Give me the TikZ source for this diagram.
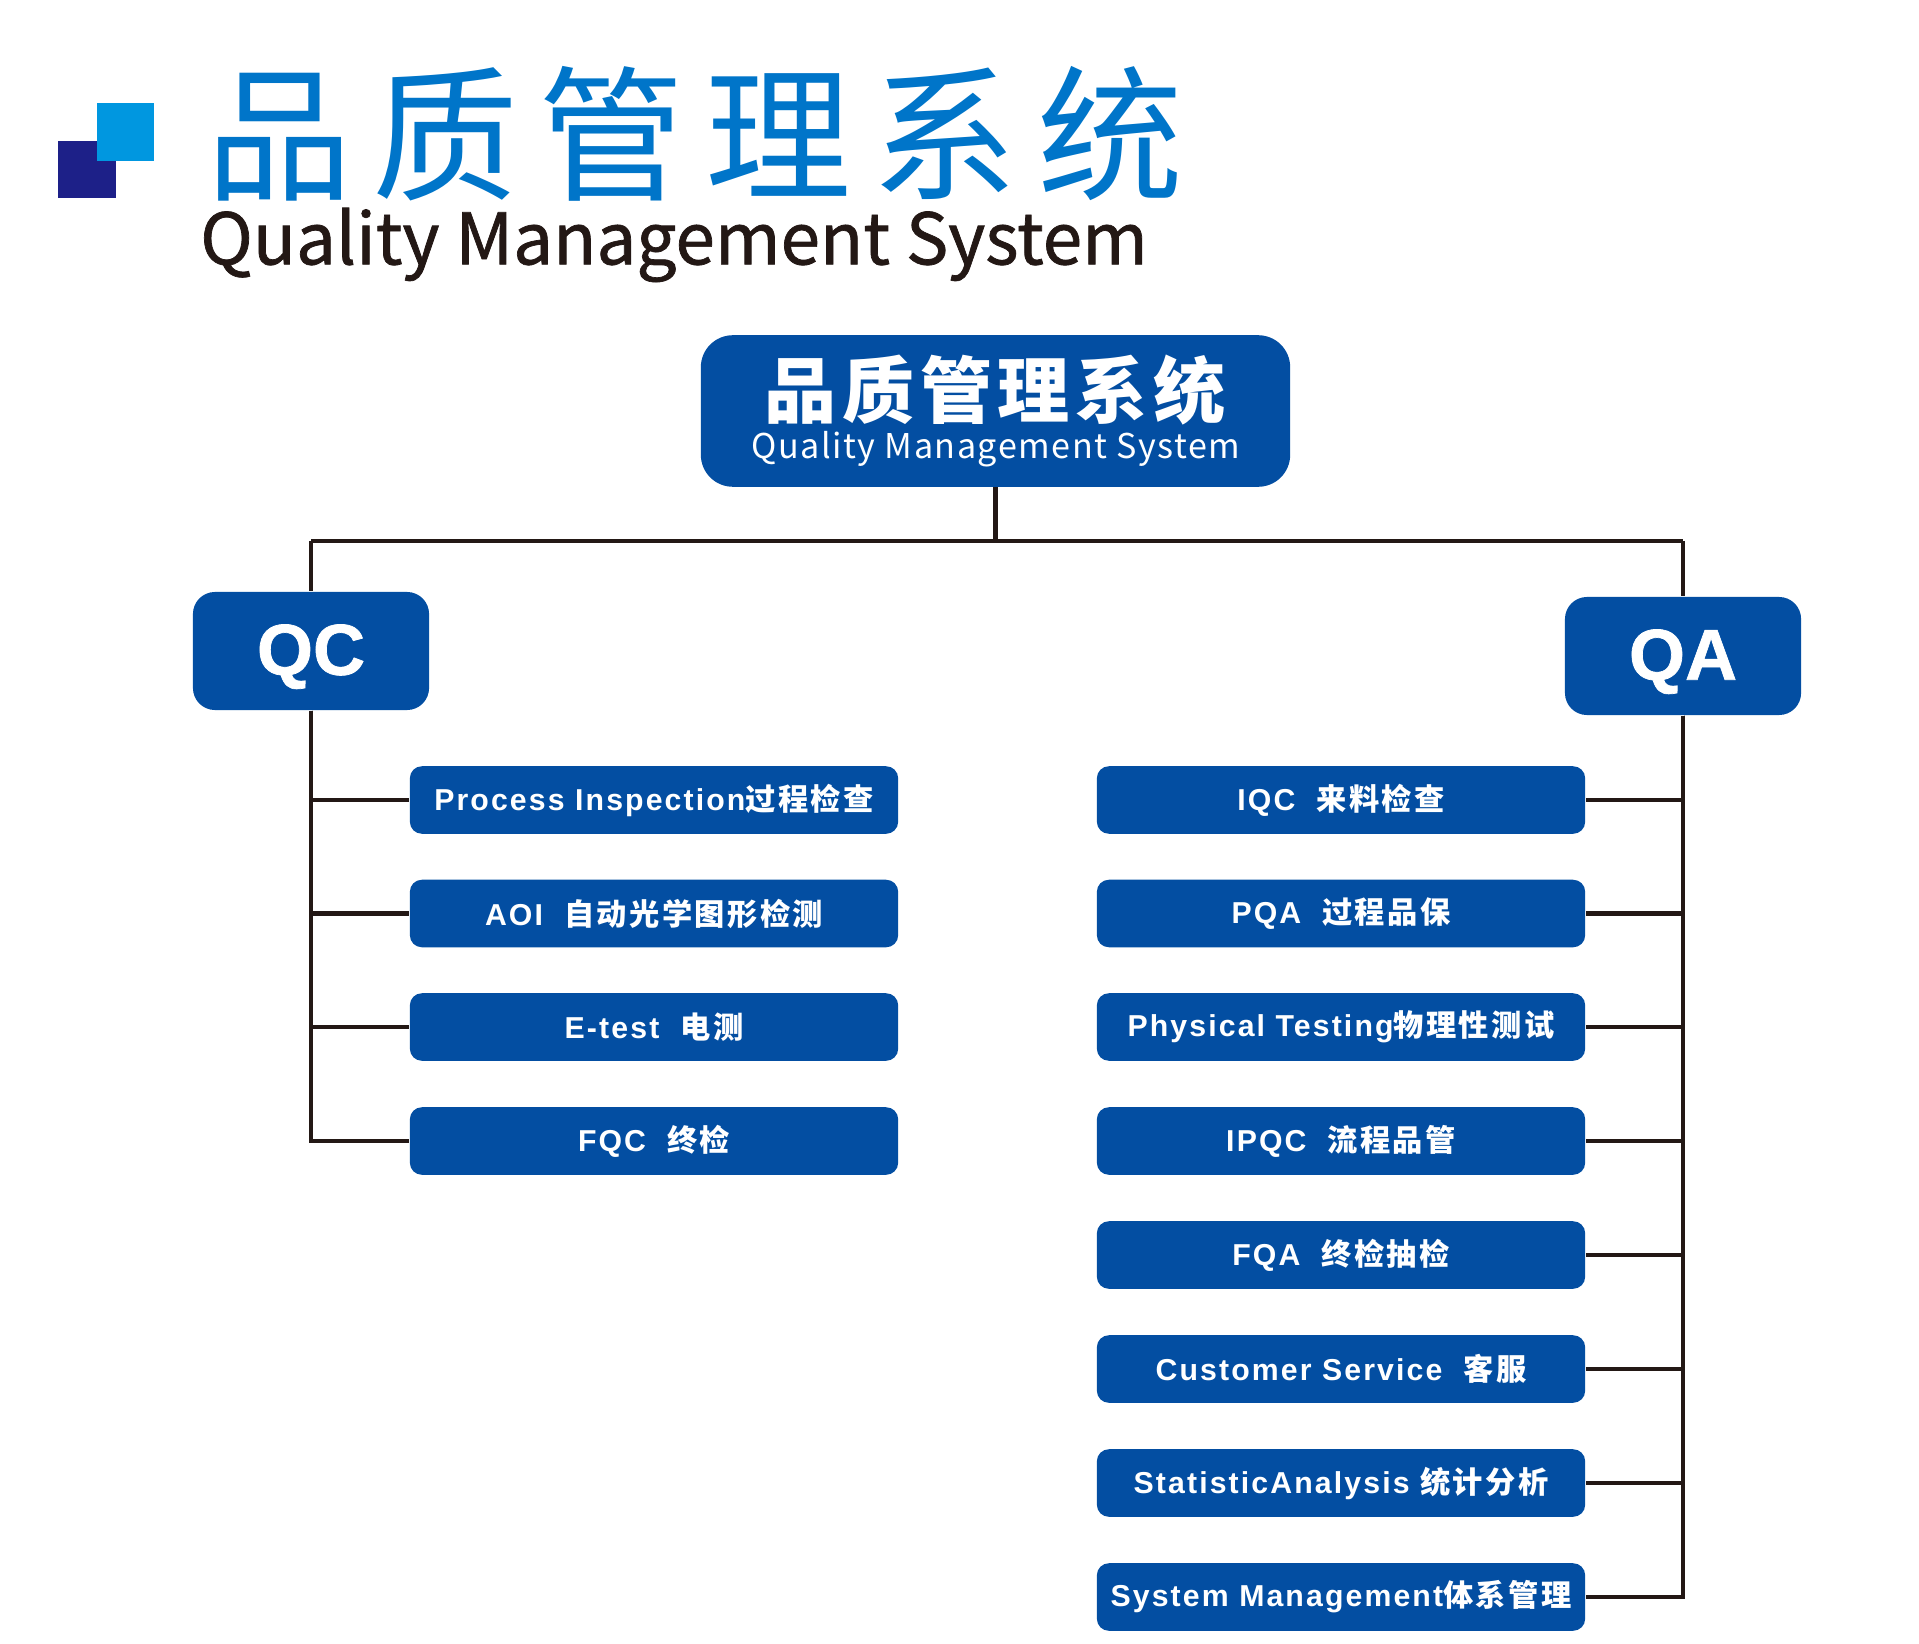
\documentclass[tikz,border=0pt]{standalone}
\usepackage{fontspec}
\usepackage{xcolor}
\setmainfont[LetterSpace=7]{Liberation Sans}
\newfontfamily\zhfont[LetterSpace=8]{Noto Sans CJK SC}
\newfontfamily\zhwide[LetterSpace=14]{Noto Sans CJK SC}
\newfontfamily\zhroot[LetterSpace=8]{Noto Sans CJK SC}
\newfontfamily\enhead[FakeBold=1]{Noto Sans CJK SC}
\newfontfamily\enroot[LetterSpace=4.5]{Noto Sans CJK SC}
\newfontfamily\boxfont[BoldFeatures={FakeBold=1}]{Liberation Sans}
\definecolor{boxblue}{HTML}{034EA2}
\definecolor{titleblue}{HTML}{0075C9}
\definecolor{lineblack}{HTML}{231815}
\definecolor{squarelight}{HTML}{0097E0}
\definecolor{squaredark}{HTML}{1D2088}
\usetikzlibrary{positioning}

\begin{document}
\begin{tikzpicture}[
  x=0.01cm, y=-0.01cm,
  link/.style={draw=lineblack, line width=1.35pt},
  rootbox/.style={rectangle, fill=boxblue, text=white, rounded corners=0.32cm, minimum width=5.89cm, minimum height=1.515cm, inner sep=0pt},
  groupbox/.style={rectangle, fill=boxblue, text=white, rounded corners=0.22cm, minimum width=2.36cm, minimum height=1.18cm, inner sep=0pt, text height=13.5pt, text depth=0pt, font=\boxfont\fontsize{20.5}{22}\selectfont\bfseries},
  itembox/.style={rectangle, fill=boxblue, text=white, rounded corners=0.12cm, minimum width=4.88cm, minimum height=0.675cm, inner sep=0pt, font=\fontsize{8.6}{10}\selectfont\bfseries}
]
  \useasboundingbox (0,0) rectangle (1919,1643);

  \fill[squaredark] (58,141) rectangle (116,198);
  \fill[squarelight] (97,103) rectangle (153.5,161);
  \node[text=titleblue, font=\zhwide\fontsize{41.5}{44}\selectfont] (title) at (695,134) {品质管理系统};
  \node[text=lineblack, font=\enhead\fontsize{20.2}{24}\selectfont] (titleen) at (674,245) {Quality Management System};

  \node[rootbox] (root) at (995.5,411) {};
  \node[text=white, font=\zhroot\bfseries\fontsize{20.5}{22}\selectfont] (rootzh) at (995,390) {品质管理系统};
  \node[text=white, font=\enroot\fontsize{9.7}{12}\selectfont] (rooten) at (996,449) {Quality Management System};

  \node[groupbox] (qc) at (311,651) {QC};
  \node[groupbox] (qa) at (1683,656) {QA};

  \coordinate (busqc) at (311,541);
  \coordinate (busqa) at (1683,541);
  \draw[link] (root.south) -- (root.south |- busqc);
  \draw[link] (busqc) -- (busqa);
  \draw[link] (busqc) -- (qc.north);
  \draw[link] (busqa) -- (qa.north);

  \foreach \name/\ypos/\lbl in {
    qcA/800/{Process Inspection{\zhfont 过程检查}},
    qcB/913.5/{AOI~~{\zhfont 自动光学图形检测}},
    qcC/1027/{E-test~~{\zhfont 电测}},
    qcD/1141/{FQC~~{\zhfont 终检}}} {
    \node[itembox] (\name) at (654,\ypos) {\lbl};
    \draw[link] (qc.south) |- (\name.west);
  }

  \foreach \name/\ypos/\lbl in {
    qaA/800/{IQC~~{\zhfont 来料检查}},
    qaB/913.5/{PQA~~{\zhfont 过程品保}},
    qaC/1027/{Physical Testing{\zhfont 物理性测试}},
    qaD/1141/{IPQC~~{\zhfont 流程品管}},
    qaE/1255/{FQA~~{\zhfont 终检抽检}},
    qaF/1369/{Customer Service~~{\zhfont 客服}},
    qaG/1483/{StatisticAnalysis~{\zhfont 统计分析}},
    qaH/1597/{System Management{\zhfont 体系管理}}} {
    \node[itembox] (\name) at (1341,\ypos) {\lbl};
    \draw[link] (qa.south) |- (\name.east);
  }
\end{tikzpicture}
\end{document}
